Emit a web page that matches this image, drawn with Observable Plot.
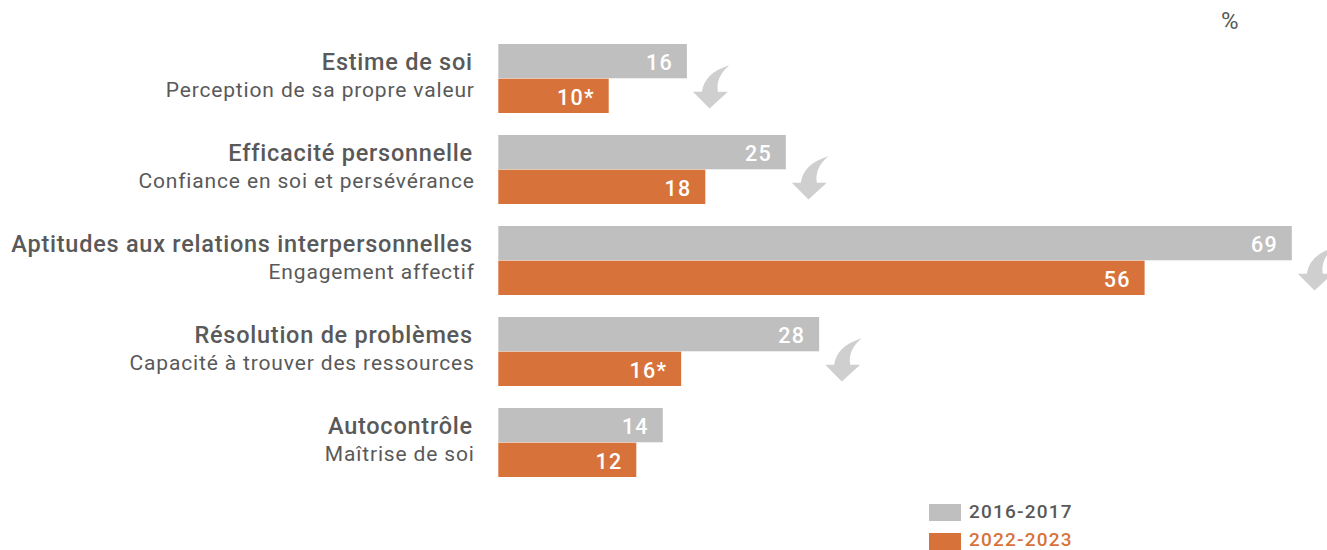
<!DOCTYPE html>
<html><head><meta charset="utf-8">
<script src="https://cdn.jsdelivr.net/npm/d3@7"></script>
<script src="https://cdn.jsdelivr.net/npm/@observablehq/plot@0.6"></script>
<style>
body{margin:0;background:#fff;font-family:Roboto,"Noto Sans",sans-serif;}
#wrap{position:relative;width:1327px;height:550px;overflow:hidden;}
#chart svg{overflow:visible;}
#unit{position:absolute;left:1221px;top:7px;font-size:24px;color:#595959;}
.lg{position:absolute;left:929px;height:17px;width:32px;}
.lt{position:absolute;left:969px;font-size:19px;font-weight:500;letter-spacing:1.2px;line-height:19px;}
g[aria-description="bar-labels"] text{letter-spacing:1.2px;}
g[aria-description="category-titles"] text{letter-spacing:0.75px;}
g[aria-description="category-subtitles"] text{letter-spacing:0.85px;}
</style></head><body>
<div id="wrap"><div id="unit">%</div><div id="chart"></div><div id="legend"></div></div>
<script>
const categories = ["Estime de soi","Efficacité personnelle","Aptitudes aux relations interpersonnelles","Résolution de problèmes","Autocontrôle"];
const subtitles = ["Perception de sa propre valeur","Confiance en soi et persévérance","Engagement affectif","Capacité à trouver des ressources","Maîtrise de soi"];
const values2016 = [16.4, 25, 69, 27.9, 14.3];
const values2022 = [9.6, 18, 56.2, 15.9, 12];
const labels2016 = ["16","25","69","28","14"];
const labels2022 = ["10*","18","56","16*","12"];
const trend = ["down","down","down","down",""];
const seriesNames = ["2016-2017","2022-2023"];
const colors = ["#BFBFBF","#D7733A"];
const textColor = "#595959";
const arrowColor = "#CFCFCF";

const rows = categories.map((c,i)=>({category:c, subtitle:subtitles[i], v1:values2016[i], v2:values2022[i], l1:labels2016[i], l2:labels2022[i], trend:trend[i]}));

const W = 1327, H = 500, mT = 21.5, mB = 0.7, pad = 0.239;
const step = (H - mT - mB) / (categories.length - pad + 2*pad);
const bw = step * (1 - pad);
const half = bw / 2;

const curvedArrow = {
  draw(ctx, size) {
    const s = Math.sqrt(size / Math.PI) / 22;
    const P = (x, y) => [x * s, y * s];
    ctx.moveTo(...P(-17.5, 4.8));
    ctx.lineTo(...P(-8.5, 4.8));
    ctx.quadraticCurveTo(...P(-6, -14), ...P(19, -21.7));
    ctx.quadraticCurveTo(...P(5, -10), ...P(7.5, 4.8));
    ctx.lineTo(...P(17.5, 4.8));
    ctx.lineTo(...P(-0.8, 21.5));
    ctx.closePath();
  }
};

const chart = Plot.plot({
  width: W, height: H,
  marginLeft: 498.3, marginRight: 0.7, marginTop: mT, marginBottom: mB,
  x: {domain: [0, 72], axis: null},
  y: {domain: categories, padding: pad, axis: null},
  style: {fontFamily: "Roboto, 'Noto Sans', sans-serif", overflow: "visible", background: "transparent"},
  marks: [
    Plot.barX(rows, {x: "v1", y: "category", fill: colors[0], insetBottom: half}),
    Plot.barX(rows, {x: "v2", y: "category", fill: colors[1], insetTop: half}),
    Plot.text(rows, {x: "v1", y: "category", text: "l1", textAnchor: "end", dx: -14.5, dy: -half/2 + 1.5, fill: "white", fontSize: 21.5, fontWeight: 500, ariaDescription: "bar-labels"}),
    Plot.text(rows, {x: "v2", y: "category", text: "l2", textAnchor: "end", dx: -14.5, dy: half/2 + 1.5, fill: "white", fontSize: 21.5, fontWeight: 500, ariaDescription: "bar-labels"}),
    Plot.text(rows, {x: 0, y: "category", text: "category", textAnchor: "end", lineAnchor: "bottom", dx: -26, dy: -9, fill: textColor, fontSize: 23.5, fontWeight: 500, ariaDescription: "category-titles"}),
    Plot.text(rows, {x: 0, y: "category", text: "subtitle", textAnchor: "end", lineAnchor: "bottom", dx: -24, dy: 18, fill: textColor, fontSize: 21, ariaDescription: "category-subtitles"}),
    Plot.dot(rows.filter(d => d.trend === "down"), {x: d => Math.max(d.v1, d.v2), y: "category", symbol: curvedArrow, r: 22, fill: arrowColor, stroke: null, dx: 23, dy: 8})
  ]
});
document.getElementById("chart").appendChild(chart);

const legend = document.getElementById("legend");
const tops = [504, 533];
const textTops = [502, 530];
seriesNames.forEach((name, i) => {
  const sw = document.createElement("div");
  sw.className = "lg"; sw.style.top = tops[i] + "px"; sw.style.background = colors[i];
  legend.appendChild(sw);
  const t = document.createElement("div");
  t.className = "lt"; t.style.top = textTops[i] + "px"; t.style.color = i === 0 ? textColor : colors[i];
  t.textContent = name;
  legend.appendChild(t);
});
</script>
</body></html>
